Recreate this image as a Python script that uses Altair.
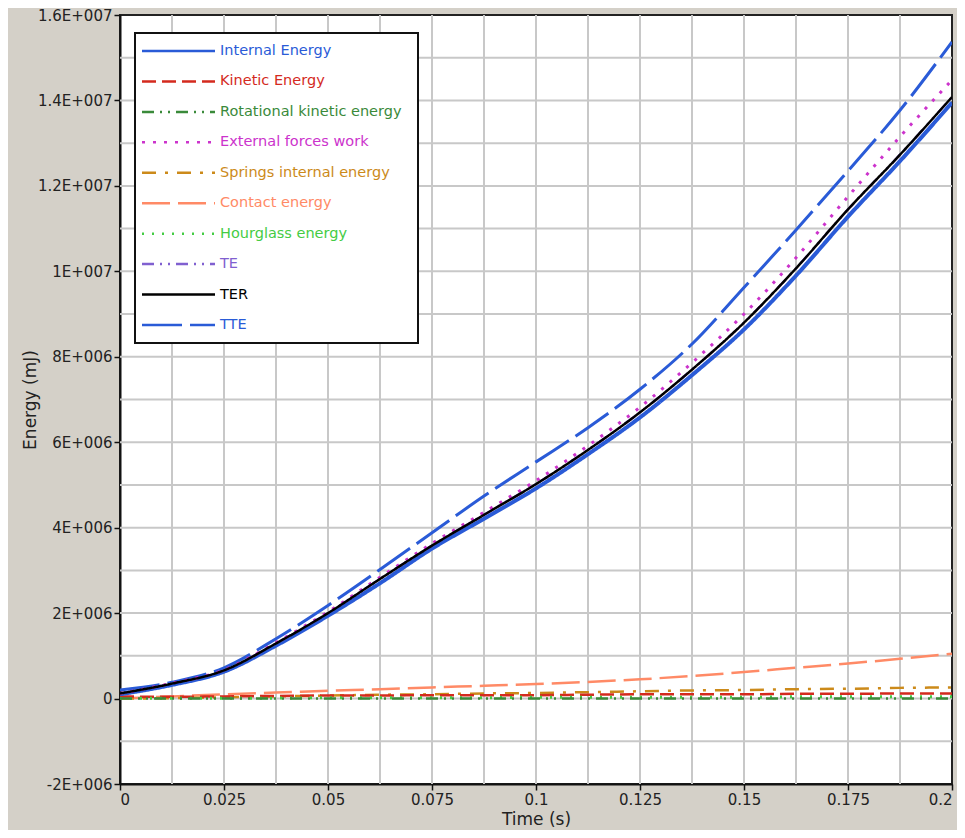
import altair as alt
import pandas as pd

# ---- data ----
time_s = [0, 0.0125, 0.025, 0.0375, 0.05, 0.0625, 0.075, 0.0875, 0.1,
          0.1125, 0.125, 0.1375, 0.15, 0.1625, 0.175, 0.1875, 0.2]

internal = [0.10, 0.32, 0.63, 1.24, 1.94, 2.70, 3.51, 4.21, 4.92,
            5.72, 6.58, 7.57, 8.64, 9.90, 11.28, 12.58, 13.95]
kinetic = [0.05, 0.04, 0.05, 0.06, 0.07, 0.07, 0.08, 0.08, 0.08,
           0.09, 0.10, 0.10, 0.10, 0.11, 0.11, 0.12, 0.12]
rotational = [0, 0, 0, 0, 0, 0, 0, 0, 0, 0, 0, 0, 0, 0, 0, 0, 0]
external = [0.12, 0.36, 0.67, 1.31, 2.03, 2.84, 3.63, 4.36, 5.10,
            5.92, 6.82, 7.86, 9.00, 10.32, 11.75, 13.15, 14.48]
springs = [0, 0.01, 0.03, 0.05, 0.07, 0.09, 0.10, 0.12, 0.13,
           0.15, 0.17, 0.19, 0.20, 0.22, 0.23, 0.25, 0.26]
contact = [0, 0.05, 0.10, 0.14, 0.18, 0.22, 0.26, 0.30, 0.34,
           0.39, 0.45, 0.53, 0.62, 0.72, 0.82, 0.93, 1.05]
hourglass = [0, 0.01, 0.01, 0.01, 0.02, 0.02, 0.02, 0.02, 0.03,
             0.03, 0.03, 0.03, 0.03, 0.04, 0.04, 0.04, 0.04]
te = [0.12, 0.35, 0.66, 1.29, 2.00, 2.80, 3.58, 4.30, 5.02,
      5.82, 6.70, 7.70, 8.80, 10.07, 11.45, 12.73, 14.08]
ter = [0.12, 0.35, 0.66, 1.29, 2.00, 2.80, 3.58, 4.30, 5.02,
       5.82, 6.70, 7.70, 8.80, 10.07, 11.45, 12.73, 14.08]
tte = [0.20, 0.38, 0.72, 1.40, 2.18, 3.02, 3.88, 4.74, 5.54,
       6.34, 7.24, 8.30, 9.62, 10.97, 12.35, 13.77, 15.37]

series_names = ["Internal Energy", "Kinetic Energy", "Rotational kinetic energy",
                "External forces work", "Springs internal energy", "Contact energy",
                "Hourglass energy", "TE", "TER", "TTE"]
series_values = [internal, kinetic, rotational, external, springs, contact,
                 hourglass, te, ter, tte]
series_colors = ["#2a5bd7", "#d42a1e", "#3a8a3a", "#cc33cc", "#cc8a1a", "#ff8a66",
                 "#44cc44", "#8060d0", "#000000", "#2a5bd7"]
series_dashes = [[1, 0], [14, 6], [12, 6, 2, 6, 2, 6], [3, 8], [14, 9, 3, 9], [28, 8],
                 [2, 8], [12, 6, 2, 6, 2, 6], [1, 0], [40, 8]]
series_widths = [4, 2.5, 2.5, 3, 2.5, 2.5, 3, 2.5, 2.5, 3]
draw_order = ["Contact energy", "Springs internal energy", "Kinetic Energy",
              "Hourglass energy", "Rotational kinetic energy", "Internal Energy",
              "TTE", "TE", "External forces work", "TER"]

x_ticks = [0, 0.025, 0.05, 0.075, 0.1, 0.125, 0.15, 0.175, 0.2]
x_tick_labels = ["0", "0.025", "0.05", "0.075", "0.1", "0.125", "0.15", "0.175", "0.2"]
x_grid = [0.0125, 0.025, 0.0375, 0.05, 0.0625, 0.075, 0.0875, 0.1, 0.1125,
          0.125, 0.1375, 0.15, 0.1625, 0.175, 0.1875]
y_ticks = [-2e6, 0, 2e6, 4e6, 6e6, 8e6, 1e7, 1.2e7, 1.4e7, 1.6e7]
y_tick_labels = ["-2E+006", "0", "2E+006", "4E+006", "6E+006", "8E+006",
                 "1E+007", "1.2E+007", "1.4E+007", "1.6E+007"]
y_grid = [-1e6, 0, 1e6, 2e6, 3e6, 4e6, 5e6, 6e6, 7e6, 8e6, 9e6, 1e7,
          1.1e7, 1.2e7, 1.3e7, 1.4e7, 1.5e7]

# ---- tables ----
rows = []
for name, vals in zip(series_names, series_values):
    for t, v in zip(time_s, vals):
        rows.append({"series": name, "time": t, "energy": v * 1e6})
df = pd.DataFrame(rows)

FONT = "DejaVu Sans"
x_scale = alt.Scale(domain=[0, 0.2], nice=False, zero=False)
y_scale = alt.Scale(domain=[-2e6, 1.6e7], nice=False, zero=False)


def label_expr(values, labels):
    return " : ".join(
        f"abs(datum.value - ({v})) < 1e-9 * max(1, abs({v})) ? '{lab}'"
        for v, lab in zip(values, labels)
    ) + " : ''"


x_axis = alt.Axis(values=x_ticks, labelExpr=label_expr(x_ticks, x_tick_labels),
                  title="Time (s)", grid=False, labelPadding=2, titlePadding=4,
                  labelFlush=True)
y_axis = alt.Axis(values=y_ticks, labelExpr=label_expr(y_ticks, y_tick_labels),
                  title="Energy (mJ)", grid=False, labelPadding=2, titlePadding=-2)

X = lambda f: alt.X(f, scale=x_scale, axis=x_axis)
Y = lambda f: alt.Y(f, scale=y_scale, axis=y_axis)

vgrid = alt.Chart(pd.DataFrame({"gx": x_grid})).mark_rule(
    color="#c8c8c8", strokeWidth=2).encode(x=X("gx:Q"))
hgrid = alt.Chart(pd.DataFrame({"gy": y_grid})).mark_rule(
    color="#c8c8c8", strokeWidth=2).encode(y=Y("gy:Q"))

line_layers = []
for name in draw_order:
    i = series_names.index(name)
    line_layers.append(
        alt.Chart(df[df.series == name]).mark_line(
            color=series_colors[i], strokeDash=series_dashes[i],
            strokeWidth=series_widths[i], interpolate="monotone",
            strokeCap="butt", clip=True
        ).encode(x=X("time:Q"), y=Y("energy:Q"))
    )

main = alt.layer(vgrid, hgrid, *line_layers)

# ---- legend box ----
leg_df = pd.DataFrame({"series": series_names, "row": list(range(len(series_names)))})
row_y = alt.Y("row:Q", scale=alt.Scale(domain=[0, 9], range=[36, 310]), axis=None)
col = alt.Color("series:N", scale=alt.Scale(domain=series_names, range=series_colors),
                legend=None)

box = alt.Chart(pd.DataFrame({"a": [0]})).mark_rect(
    fill="white", stroke="#111111", strokeWidth=2
).encode(x=alt.value(15), x2=alt.value(298), y=alt.value(18), y2=alt.value(328))

leg_lines = alt.Chart(leg_df).mark_rule(strokeWidth=2.5, strokeCap="butt").encode(
    x=alt.value(22), x2=alt.value(95), y=row_y, color=col,
    strokeDash=alt.StrokeDash("series:N",
                              scale=alt.Scale(domain=series_names, range=series_dashes),
                              legend=None)
)
leg_text = alt.Chart(leg_df).mark_text(
    align="left", baseline="middle", font=FONT, fontSize=14.5
).encode(x=alt.value(100), y=row_y, text="series:N", color=col)

legend = alt.layer(box, leg_lines, leg_text)

chart = alt.layer(main, legend).resolve_scale(
    y="independent", color="independent", strokeDash="independent"
).properties(
    width=832, height=769,
    autosize=alt.AutoSizeParams(type="none"),
    padding={"left": 112, "top": 7, "right": 5, "bottom": 46},
    background="#d4d0c8"
).configure_view(
    fill="white", stroke="#222222", strokeWidth=2
).configure_axis(
    domainColor="#111111", domainWidth=2, tickColor="#111111", tickWidth=1.5,
    tickSize=6, labelFont=FONT, labelFontSize=15, labelColor="#222222",
    titleFont=FONT, titleFontSize=17, titleFontWeight="normal", titleColor="#222222"
)

chart.save("out.html", embed_options={"renderer": "svg", "actions": False})
